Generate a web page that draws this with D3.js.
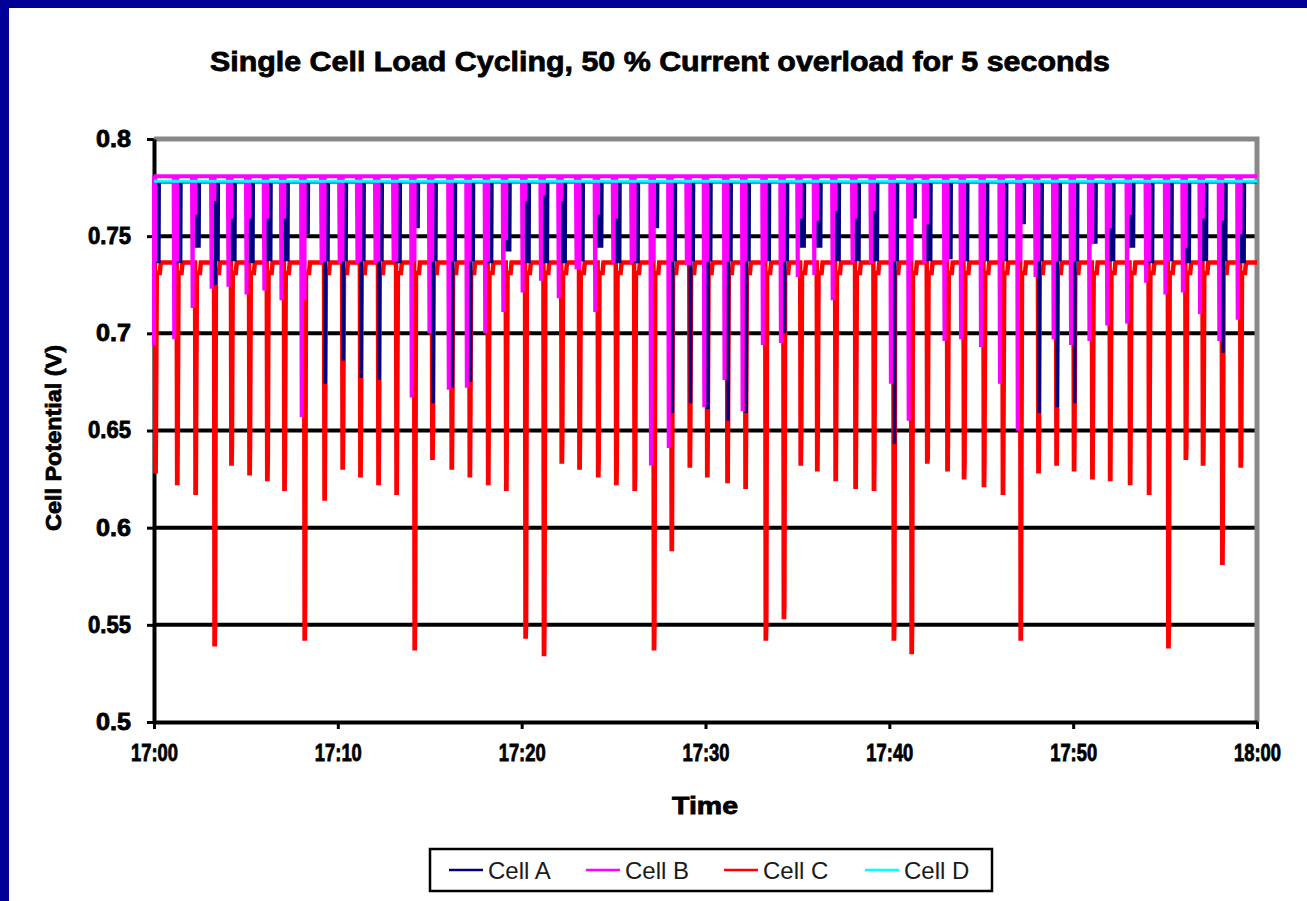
<!DOCTYPE html>
<meta charset="utf-8">
<style>
body { margin: 0; background: #fff; }
text { font-family: "Liberation Sans", Arial, sans-serif; }
.heavy { font-weight: bold; fill: #000; stroke: #000; stroke-width: 0.8px; }
</style>
<svg width="1307" height="901"></svg>
<script src="https://d3js.org/d3.v7.min.js"></script>
<script>

// seconds after 17:00 at which each load pulse starts
var spikeSec = [3, 74, 134, 196, 251, 310, 368, 424, 490, 555,
  614, 672, 731, 790, 849, 907, 970, 1029, 1089, 1148,
  1211, 1271, 1329, 1387, 1448, 1507, 1567, 1630, 1688, 1747,
  1804, 1870, 1929, 1995, 2054, 2109, 2163, 2223, 2288, 2348,
  2413, 2471, 2522, 2588, 2642, 2707, 2769, 2827, 2885, 2944,
  3001, 3061, 3119, 3184, 3246, 3309, 3366, 3422, 3485, 3545];

// lowest potential (V) of each cell during each pulse
var cellAMin = [0.737, 0.737, 0.745, 0.725, 0.738, 0.737, 0.738, 0.738, 0.752, 0.674,
  0.686, 0.677, 0.676, 0.737, 0.755, 0.664, 0.672, 0.675, 0.737, 0.743,
  0.737, 0.737, 0.737, 0.738, 0.745, 0.737, 0.737, 0.755, 0.659, 0.664,
  0.661, 0.655, 0.659, 0.738, 0.700, 0.745, 0.745, 0.738, 0.738, 0.738,
  0.643, 0.760, 0.738, 0.739, 0.738, 0.738, 0.738, 0.757, 0.659, 0.662,
  0.664, 0.747, 0.738, 0.745, 0.737, 0.738, 0.737, 0.738, 0.690, 0.737];

// level cell A holds for the rest of the pulse
var cellAKnee = [0.737, 0.737, 0.745, 0.738, 0.738, 0.737, 0.738, 0.738, 0.752, 0.738,
  0.738, 0.738, 0.738, 0.737, 0.755, 0.738, 0.738, 0.738, 0.737, 0.743,
  0.737, 0.737, 0.737, 0.738, 0.745, 0.737, 0.737, 0.755, 0.738, 0.738,
  0.738, 0.738, 0.738, 0.738, 0.738, 0.745, 0.745, 0.738, 0.738, 0.738,
  0.738, 0.760, 0.738, 0.739, 0.738, 0.738, 0.738, 0.757, 0.738, 0.738,
  0.738, 0.747, 0.738, 0.745, 0.737, 0.738, 0.737, 0.738, 0.738, 0.737];

var cellBMin = [0.694, 0.697, 0.713, 0.723, 0.724, 0.720, 0.722, 0.717, 0.657, 0.736,
  0.736, 0.736, 0.736, 0.737, 0.667, 0.700, 0.671, 0.672, 0.700, 0.711,
  0.721, 0.727, 0.718, 0.733, 0.711, 0.736, 0.736, 0.632, 0.641, 0.736,
  0.662, 0.676, 0.660, 0.694, 0.695, 0.729, 0.730, 0.717, 0.736, 0.736,
  0.674, 0.655, 0.736, 0.696, 0.697, 0.693, 0.674, 0.650, 0.729, 0.697,
  0.694, 0.696, 0.704, 0.705, 0.726, 0.720, 0.721, 0.710, 0.696, 0.707];

// level cell B holds for the rest of the pulse
var cellBKnee = [0.738, 0.738, 0.762, 0.769, 0.760, 0.760, 0.760, 0.760, 0.718, 0.738,
  0.738, 0.738, 0.738, 0.738, 0.738, 0.738, 0.738, 0.738, 0.738, 0.749,
  0.769, 0.772, 0.769, 0.734, 0.762, 0.760, 0.738, 0.738, 0.738, 0.736,
  0.738, 0.738, 0.738, 0.738, 0.738, 0.760, 0.759, 0.764, 0.760, 0.764,
  0.738, 0.738, 0.757, 0.738, 0.738, 0.738, 0.738, 0.738, 0.738, 0.738,
  0.738, 0.747, 0.755, 0.762, 0.738, 0.738, 0.745, 0.760, 0.759, 0.752];

var cellCMin = [0.629, 0.623, 0.618, 0.540, 0.633, 0.628, 0.625, 0.620, 0.543, 0.615,
  0.631, 0.627, 0.623, 0.618, 0.538, 0.636, 0.631, 0.627, 0.623, 0.620,
  0.544, 0.535, 0.634, 0.631, 0.627, 0.623, 0.620, 0.538, 0.589, 0.632,
  0.627, 0.624, 0.621, 0.543, 0.554, 0.633, 0.630, 0.625, 0.621, 0.620,
  0.543, 0.536, 0.634, 0.630, 0.626, 0.622, 0.618, 0.543, 0.629, 0.633,
  0.630, 0.626, 0.625, 0.623, 0.618, 0.539, 0.636, 0.633, 0.582, 0.632];

// second reading of cell C during the pulse
var cellCStep = [0.653, 0.651, 0.653, 0.550, 0.643, 0.641, 0.637, 0.635, 0.570, 0.650,
  0.650, 0.650, 0.650, 0.650, 0.560, 0.650, 0.652, 0.652, 0.652, 0.652,
  0.550, 0.550, 0.643, 0.648, 0.635, 0.631, 0.626, 0.550, 0.641, 0.650,
  0.650, 0.650, 0.650, 0.550, 0.560, 0.647, 0.650, 0.650, 0.646, 0.638,
  0.550, 0.550, 0.636, 0.650, 0.632, 0.634, 0.650, 0.594, 0.645, 0.658,
  0.650, 0.656, 0.653, 0.650, 0.650, 0.550, 0.641, 0.641, 0.600, 0.636];

// resting levels
var baseA = 0.7780, baseB = 0.7808, baseC = 0.7365, baseD = 0.7783, recC = 0.731;

var yTicks = [0.5, 0.55, 0.6, 0.65, 0.7, 0.75, 0.8];
var gridTicks = [0.55, 0.6, 0.65, 0.7, 0.75];
var seriesNames = ["Cell A", "Cell B", "Cell C", "Cell D"];
var seriesColors = ["#000080", "#ff00ff", "#ff0000", "#00ffff"];

var svg = d3.select("svg"),
    plotL = 154, plotR = 1257, plotT = 139, plotB = 722;

svg.append("rect").attr("width", 1307).attr("height", 901).attr("fill", "#fff");
svg.append("rect").attr("width", 1307).attr("height", 8).attr("fill", "#000099");
svg.append("rect").attr("width", 9).attr("height", 901).attr("fill", "#000099");

var t0 = new Date(2000, 0, 1, 17, 0, 0),
    t1 = new Date(2000, 0, 1, 18, 0, 0);
function at(s) { return new Date(t0.getTime() + s * 1000); }

var x = d3.scaleTime().domain([t0, t1]).range([plotL, plotR]).clamp(true);
var y = d3.scaleLinear().domain([0.5, 0.8]).range([plotB, plotT]);
var xTicks = d3.range(0, 61, 10).map(function(m) { return at(m * 60); });

// build the point lists for each cell
function series(base, shape) {
  var pts = [[0, base]];
  spikeSec.forEach(function(t, i) { pts = pts.concat(shape(t, i)); });
  pts.push([3600, base]);
  return pts.map(function(p) { return [at(Math.max(0, p[0])), p[1]]; });
}
var dataA = series(baseA, function(t, i) {
  return [[t + 3, baseA], [t + 4, cellAMin[i]], [t + 5, cellAKnee[i]], [t + 13, cellAKnee[i]], [t + 14, baseA]];
});
var dataB = series(baseB, function(t, i) {
  return [[t - 10, baseB], [t - 8, cellBMin[i]], [t - 7, cellBKnee[i]], [t + 1, cellBKnee[i]], [t + 2, baseB]];
});
var dataC = series(baseC, function(t, i) {
  return [[t, baseC], [t + 1.5, cellCMin[i]], [t + 2.5, cellCMin[i]], [t + 3.5, cellCStep[i]],
    [t + 6, recC], [t + 16, recC], [t + 19, baseC]];
});
var dataD = [[at(0), baseD], [at(3600), baseD]];

// grid
svg.append("g").selectAll("line")
    .data(gridTicks)
    .enter().append("line")
    .attr("x1", plotL).attr("x2", plotR)
    .attr("y1", function(d) { return y(d); }).attr("y2", function(d) { return y(d); })
    .attr("stroke", "#000").attr("stroke-width", 4);

svg.append("path")
    .attr("d", "M" + plotL + "," + plotT + "H" + plotR + "V" + plotB)
    .attr("fill", "none").attr("stroke", "#888").attr("stroke-width", 5);

var yAxis = svg.append("g")
    .attr("transform", "translate(" + plotL + ",0)")
    .call(d3.axisLeft(y).tickValues(yTicks).tickSize(7).tickSizeOuter(0).tickPadding(16)
      .tickFormat(function(d) { return String(d); }));

var xAxis = svg.append("g")
    .attr("transform", "translate(0," + plotB + ")")
    .call(d3.axisBottom(x).tickValues(xTicks).tickSize(7).tickSizeOuter(0).tickPadding(16)
      .tickFormat(d3.timeFormat("%H:%M")));

[yAxis, xAxis].forEach(function(a) {
  a.select(".domain").attr("stroke", "#000").attr("stroke-width", 4);
  a.selectAll(".tick line").attr("stroke", "#000").attr("stroke-width", 3);
  a.selectAll("text").attr("class", "heavy").attr("font-size", 23)
    .attr("lengthAdjust", "spacingAndGlyphs");
});
yAxis.selectAll("text").attr("textLength", function(d) { return String(d).length > 3 ? 43 : 35; });
xAxis.selectAll("text").attr("textLength", 47);

// lines
var line = d3.line()
    .x(function(d) { return x(d[0]); })
    .y(function(d) { return y(d[1]); });

var drawOrder = [[dataC, 2, 4.5], [dataA, 0, 3.5], [dataB, 1, 4], [dataD, 3, 3]];
drawOrder.forEach(function(s) {
  svg.append("path")
      .datum(s[0])
      .attr("d", line)
      .attr("fill", "none")
      .attr("stroke", seriesColors[s[1]])
      .attr("stroke-width", s[2])
      .attr("stroke-linejoin", "miter")
      .attr("stroke-miterlimit", 3);
});

// titles
svg.append("text").attr("class", "heavy")
    .attr("x", 660).attr("y", 71).attr("text-anchor", "middle").attr("font-size", 28)
    .attr("textLength", 900).attr("lengthAdjust", "spacingAndGlyphs")
    .text("Single Cell Load Cycling, 50 %  Current overload for 5 seconds");

svg.append("text").attr("class", "heavy")
    .attr("x", 705).attr("y", 814).attr("text-anchor", "middle").attr("font-size", 24)
    .attr("textLength", 66).attr("lengthAdjust", "spacingAndGlyphs")
    .text("Time");

svg.append("text").attr("class", "heavy")
    .attr("transform", "translate(61,438) rotate(-90)")
    .attr("text-anchor", "middle").attr("font-size", 22)
    .attr("textLength", 186).attr("lengthAdjust", "spacingAndGlyphs")
    .text("Cell Potential (V)");

// legend
var legend = svg.append("g");
legend.append("rect")
    .attr("x", 430).attr("y", 849).attr("width", 562).attr("height", 42)
    .attr("fill", "#fff").attr("stroke", "#000").attr("stroke-width", 2.5);

var legendX = [449, 586, 724, 865];
var item = legend.selectAll(".item")
    .data(seriesNames)
    .enter().append("g")
    .attr("transform", function(d, i) { return "translate(" + legendX[i] + ",0)"; });
item.append("line")
    .attr("x1", 0).attr("x2", 34).attr("y1", 870).attr("y2", 870)
    .attr("stroke", function(d, i) { return seriesColors[i]; })
    .attr("stroke-width", 2.5);
item.append("text")
    .attr("x", 39).attr("y", 879).attr("font-size", 24).attr("fill", "#1a1a1a")
    .text(function(d) { return d; });

</script>
